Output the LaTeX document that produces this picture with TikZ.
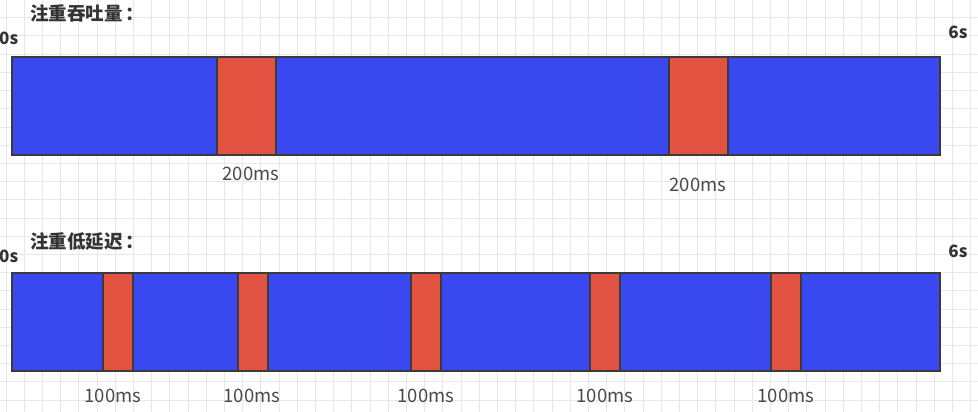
\documentclass[tikz,border=0pt]{standalone}
\usepackage{fontspec}
\setmainfont{Noto Sans CJK SC}
\begin{document}
\begin{tikzpicture}[x=1pt,y=-1pt,
  bluebar/.style={draw=barline,fill=barblue,line width=1.6pt},
  redbar/.style={draw=barline,fill=barred,line width=1.6pt},
  title/.style={anchor=west,text=txt,font=\fontsize{18.5}{18.5}\selectfont\bfseries,inner sep=0pt},
  tick/.style={text=txt,font=\fontsize{17}{17}\selectfont\bfseries,inner sep=0pt},
  dur/.style={text=durtxt,font=\fontsize{18.5}{18.5}\selectfont,inner sep=0pt}]
\definecolor{barblue}{HTML}{3A48F0}
\definecolor{barred}{HTML}{E35342}
\definecolor{barline}{HTML}{3A3A3A}
\definecolor{txt}{HTML}{333333}
\definecolor{durtxt}{HTML}{4A4A4A}
\definecolor{gridc}{HTML}{E8E8E8}
\useasboundingbox (0,0) rectangle (978,412);
\fill[white] (0,0) rectangle (978,412);
% grid
\foreach \i in {0,...,53} {\draw[gridc,line width=0.8pt] (6+18.2*\i,0) -- (6+18.2*\i,412);}
\foreach \j in {0,...,23} {\draw[gridc,line width=0.8pt] (0,17.7+18.2*\j) -- (978,17.7+18.2*\j);}
% top: throughput
\node[title] (t1) at (30,13) {注重吞吐量\,：};
\node[tick,anchor=west] (s0a) at (-1,38) {0s};
\node[tick] (s6a) at (958,32) {6s};
\draw[bluebar] (12,57) rectangle (940,155);
\draw[redbar] (217,57) rectangle (276,155);
\draw[redbar] (669,57) rectangle (728,155);
\node[dur] (d1) at (251,174) {200ms};
\node[dur] (d2) at (698,185) {200ms};
% bottom: latency
\node[title] (t2) at (30,241) {注重低延迟\,：};
\node[tick,anchor=west] (s0b) at (-1,256) {0s};
\node[tick] (s6b) at (958,251) {6s};
\draw[bluebar] (12,273) rectangle (940,371);
\foreach \a/\b in {103/133,238/268,411/441,590/620,771/801} {\draw[redbar] (\a,273) rectangle (\b,371);}
\foreach \c/\n in {113/a,252/b,426/c,605/d,786/e} {\node[dur] (e\n) at (\c,396) {100ms};}
\end{tikzpicture}
\end{document}
